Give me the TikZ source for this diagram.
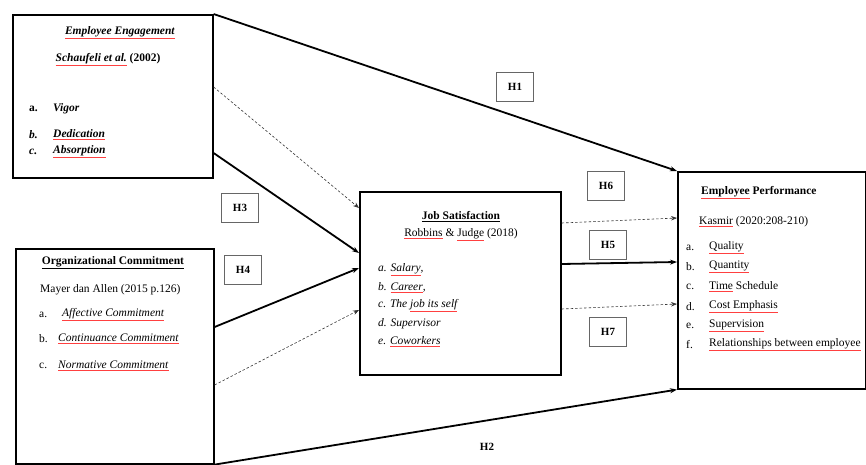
\documentclass[tikz,border=0pt]{standalone}
\usepackage{fontspec}
\setmainfont{Liberation Serif}
\usetikzlibrary{arrows.meta}
\newcommand{\redul}[1]{{\color{red!75}\underline{{\color{black}#1}}}}
\begin{document}
\begin{tikzpicture}[x=1pt,y=-1pt,
  bigbox/.style={draw=black,line width=1.6pt,anchor=north west,inner sep=0pt},
  hbox/.style={draw=black!60,line width=0.7pt,minimum width=37pt,minimum height=29pt,inner sep=0pt,font=\fontsize{11}{13}\selectfont\bfseries},
  txt/.style={inner sep=0pt,font=\fontsize{11.5}{13}\selectfont},
  lt/.style={txt,anchor=west},
  strong/.style={line width=1.8pt,-{Stealth[length=7pt,width=5pt]}},
  weak/.style={line width=0.6pt,dashed,dash pattern=on 2.5pt off 2pt,draw=black!80,-{Stealth[length=6pt,width=4.5pt]}}
]
\useasboundingbox (0,0) rectangle (866,465);
% boxes
\node[bigbox,minimum width=200pt,minimum height=163pt] (ee) at (12,14) {};
\node[bigbox,minimum width=198pt,minimum height=215pt] (oc) at (15,248) {};
\node[bigbox,minimum width=201pt,minimum height=183pt] (js) at (359,191) {};
\node[bigbox,minimum width=188pt,minimum height=217pt] (ep) at (677,171) {};
% Employee Engagement text
\node[txt] (eet) at (120,33) {\redul{\textbf{\textit{Employee Engagement}}}};
\node[txt] (ees) at (108,60) {\textbf{\redul{\textit{Schaufeli et al.}} (2002)}};
\node[lt] (eea) at (29,109) {\textbf{a.}};
\node[lt] (eeat) at (53,109) {\textbf{\textit{Vigor}}};
\node[lt] (eeb) at (29,135) {\textbf{\textit{b.}}};
\node[lt] (eebt) at (53,135) {\redul{\textbf{\textit{Dedication}}}};
\node[lt] (eec) at (29,152) {\textbf{\textit{c.}}};
\node[lt] (eect) at (53,152) {\redul{\textbf{\textit{Absorption}}}};
% Organizational Commitment text
\node[txt] (oct) at (113,263) {\textbf{\underline{Organizational Commitment}}};
\node[lt] (ocs) at (40,290) {Mayer dan Allen (2015 p.126)};
\node[lt] (oca) at (39,315) {a.};
\node[lt] (ocat) at (62,315) {\redul{\textit{Affective Commitment}}};
\node[lt] (ocb) at (39,339) {b.};
\node[lt] (ocbt) at (58,339) {\redul{\textit{Continuance Commitment}}};
\node[lt] (occ) at (39,366) {c.};
\node[lt] (occt) at (58,366) {\redul{\textit{Normative Commitment}}};
% Job Satisfaction text
\node[txt] (jst) at (461,217) {\textbf{\underline{Job Satisfaction}}};
\node[txt] (jss) at (461,235) {\redul{Robbins} \& \redul{Judge} (2018)};
\node[lt] (jsa) at (378,270) {\textit{a. \redul{Salary},}};
\node[lt] (jsb) at (378,288) {\textit{b. \redul{Career},}};
\node[lt] (jsc) at (378,306) {\textit{c. The \redul{job its self}}};
\node[lt] (jsd) at (378,324) {\textit{d. Supervisor}};
\node[lt] (jse) at (378,342) {\textit{e. \redul{Coworkers}}};
% Employee Performance text
\node[lt] (ept) at (701,193) {\textbf{\redul{Employee} Performance}};
\node[lt] (eps) at (699,222) {\redul{Kasmir} (2020:208-210)};
\node[lt] (epa) at (686,248) {a.};
\node[lt] (epat) at (709,248) {\redul{Quality}};
\node[lt] (epb) at (686,267) {b.};
\node[lt] (epbt) at (709,267) {\redul{Quantity}};
\node[lt] (epc) at (686,287) {c.};
\node[lt] (epct) at (709,287) {\redul{Time} Schedule};
\node[lt] (epd) at (686,307) {d.};
\node[lt] (epdt) at (709,307) {\redul{Cost Emphasis}};
\node[lt] (epe) at (686,326) {e.};
\node[lt] (epet) at (709,326) {\redul{Supervision}};
\node[lt] (epf) at (686,345) {f.};
\node[lt] (epft) at (709,345) {\redul{Relationships between employee}};
% hypothesis labels
\node[hbox] (h1) at (515,87) {H1};
\node[hbox] (h6) at (606,186) {H6};
\node[hbox] (h5) at (608,245) {H5};
\node[hbox] (h7) at (608,332) {H7};
\node[hbox] (h3) at (240,208) {H3};
\node[hbox] (h4) at (243,270) {H4};
\node[txt,font=\fontsize{11}{13}\selectfont\bfseries] (h2) at (487,447) {H2};
% connectors
\draw[strong] (ee.north east) -- (ep.north west);
\draw[weak] ([yshift=-73pt]ee.north east) -- ([yshift=-17pt]js.north west);
\draw[strong] ([yshift=-139pt]ee.north east) -- ([yshift=-62pt]js.north west);
\draw[strong] ([yshift=-79pt]oc.north east) -- ([yshift=-77pt]js.north west);
\draw[weak] ([yshift=-137pt]oc.north east) -- ([yshift=-119pt]js.north west);
\draw[strong] (oc.south east) -- (ep.south west);
\draw[weak] ([yshift=-32pt]js.north east) -- ([yshift=-47pt]ep.north west);
\draw[strong] ([yshift=-73pt]js.north east) -- ([yshift=-91pt]ep.north west);
\draw[weak] ([yshift=-118pt]js.north east) -- ([yshift=-133pt]ep.north west);
\end{tikzpicture}
\end{document}
